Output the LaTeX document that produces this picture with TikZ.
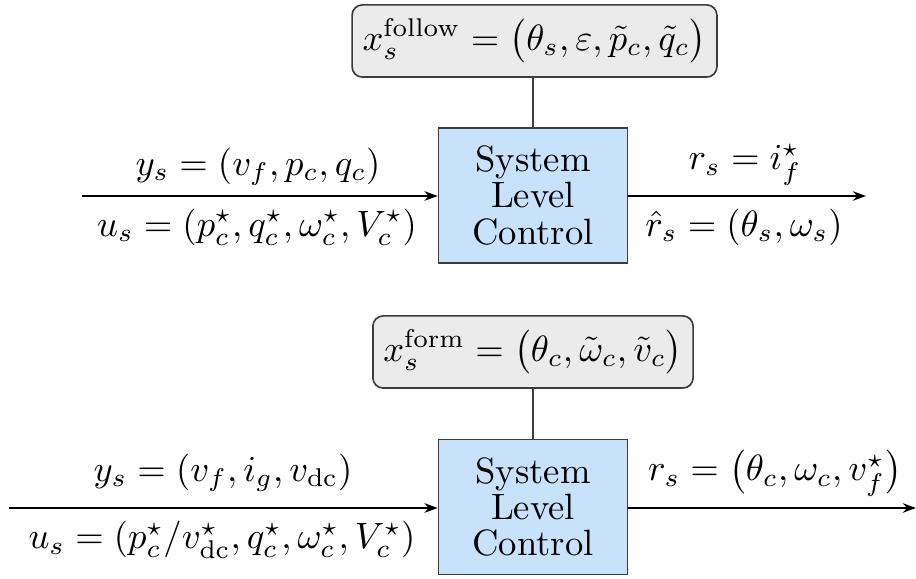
\documentclass[tikz,border=0pt]{standalone}
\usetikzlibrary{arrows.meta}
\definecolor{sysblue}{RGB}{200,226,252}
\definecolor{stgray}{RGB}{235,235,235}
\definecolor{edgegray}{RGB}{60,60,60}
\begin{document}
\begin{tikzpicture}[x=0.273pt,y=-0.273pt,
  sysbox/.style={draw=edgegray,fill=sysblue,line width=0.45pt,minimum width=51.6pt,minimum height=36.9pt,align=center,inner sep=0pt,font=\fontsize{10}{9.9}\selectfont},
  statebox/.style={draw=edgegray,fill=stgray,line width=0.45pt,rounded corners=2.8pt,minimum height=19.7pt,inner sep=0pt},
  lbl/.style={inner sep=0pt},
  sig/.style={line width=0.45pt,-{Stealth[length=3.6pt,width=2.6pt]}},
  link/.style={line width=0.45pt,draw=edgegray}]
\useasboundingbox (0,0) rectangle (916,579);
% top diagram
\node[statebox,minimum width=99.6pt] (st1) at (534.5,41) {$x_s^{\mathrm{follow}} = \bigl(\theta_s, \varepsilon, \tilde p_c, \tilde q_c\bigr)$};
\node[sysbox] (sys1) at (533,195.5) {System\\Level\\Control};
\coordinate (in1) at (82,196);
\coordinate (out1) at (866,196);
\draw[link] (st1.south -| sys1.north) -- (sys1.north);
\draw[sig] (in1) -- (in1 -| sys1.west);
\draw[sig] (sys1.east |- out1) -- (out1);
\node[lbl] (y1) at (258,167) {$y_s = (v_f, p_c, q_c)$};
\node[lbl] (u1) at (257,227) {$u_s = (p_c^\star, q_c^\star, \omega_c^\star, V_c^\star)$};
\node[lbl] (r1) at (745,165) {$r_s = i_f^\star$};
\node[lbl] (rh1) at (744,227) {$\hat r_s = (\theta_s, \omega_s)$};
% bottom diagram
\node[statebox,minimum width=87.4pt] (st2) at (533,352) {$x_s^{\mathrm{form}} = \bigl(\theta_c, \tilde\omega_c, \tilde v_c\bigr)$};
\node[sysbox] (sys2) at (533,507) {System\\Level\\Control};
\coordinate (in2) at (9,508);
\coordinate (out2) at (916,508);
\draw[link] (st2.south -| sys2.north) -- (sys2.north);
\draw[sig] (in2) -- (in2 -| sys2.west);
\draw[sig] (sys2.east |- out2) -- (out2);
\node[lbl] (y2) at (223,473) {$y_s = (v_f, i_g, v_{\mathrm{dc}})$};
\node[lbl] (u2) at (222,540) {$u_s = (p_c^\star/v_{\mathrm{dc}}^\star, q_c^\star, \omega_c^\star, V_c^\star)$};
\node[lbl] (r2) at (775,473) {$r_s = \bigl(\theta_c, \omega_c, v_f^\star\bigr)$};
\end{tikzpicture}
\end{document}
